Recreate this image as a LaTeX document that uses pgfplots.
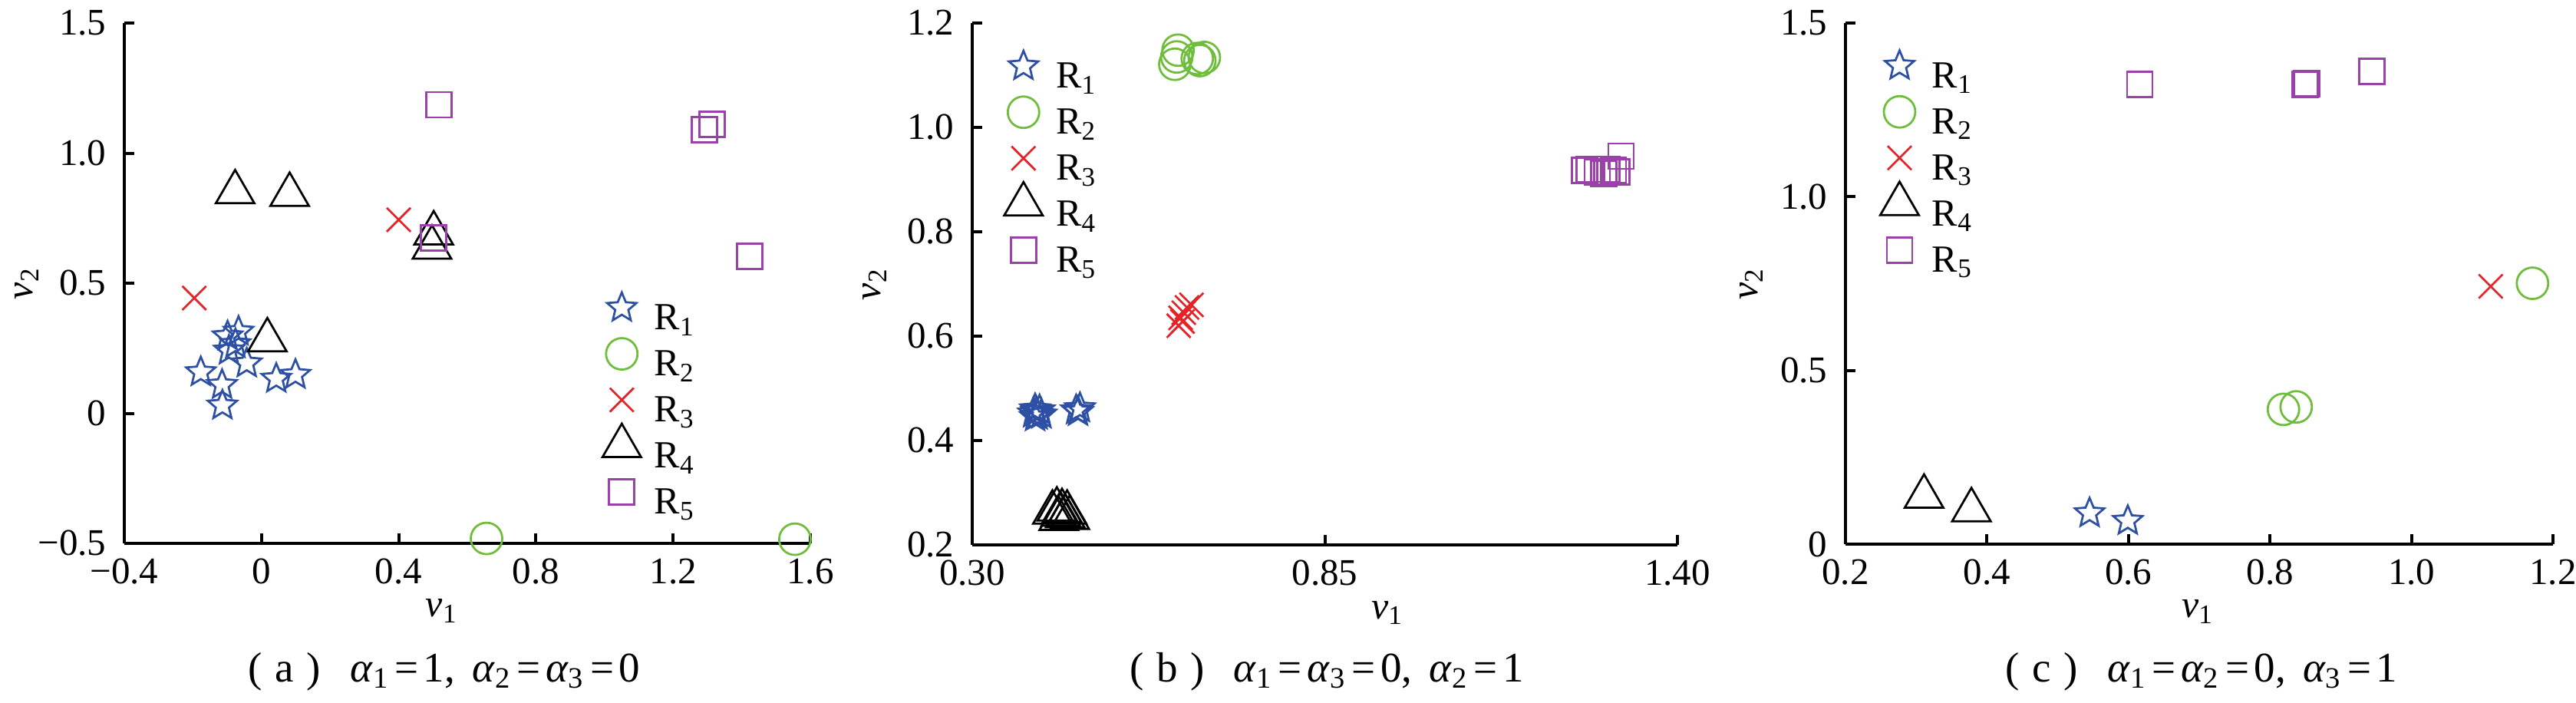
\documentclass[border=0pt]{standalone}
\usepackage{fontspec}
\setmainfont{Liberation Serif}
\usepackage{pgfplots}
\pgfplotsset{compat=1.18}
\definecolor{cR1}{RGB}{45,80,165}
\definecolor{cR2}{RGB}{110,190,60}
\definecolor{cR3}{RGB}{230,35,40}
\definecolor{cR4}{RGB}{0,0,0}
\definecolor{cR5}{RGB}{155,65,170}

% outlined five-pointed star
\pgfdeclareplotmark{ostar}{%
  \pgfpathmoveto{\pgfpointpolar{90}{\pgfplotmarksize}}%
  \pgfpathlineto{\pgfpointpolar{126}{0.45\pgfplotmarksize}}%
  \pgfpathlineto{\pgfpointpolar{162}{\pgfplotmarksize}}%
  \pgfpathlineto{\pgfpointpolar{198}{0.45\pgfplotmarksize}}%
  \pgfpathlineto{\pgfpointpolar{234}{\pgfplotmarksize}}%
  \pgfpathlineto{\pgfpointpolar{270}{0.45\pgfplotmarksize}}%
  \pgfpathlineto{\pgfpointpolar{306}{\pgfplotmarksize}}%
  \pgfpathlineto{\pgfpointpolar{342}{0.45\pgfplotmarksize}}%
  \pgfpathlineto{\pgfpointpolar{18}{\pgfplotmarksize}}%
  \pgfpathlineto{\pgfpointpolar{54}{0.45\pgfplotmarksize}}%
  \pgfpathclose
  \pgfusepathqstroke}

\pgfplotsset{
  panel/.style={
    scale only axis, axis lines=left, axis line style={-, line width=0.8pt},
    tick align=inside, major tick length=2.6pt, tick style={line width=0.8pt, black},
    clip=false, anchor=south west,
    tick label style={font=\fontsize{9.8}{11}\selectfont},
    yticklabel style={xshift=-1.2pt}, xticklabel style={yshift=-0.5pt},
    label style={font=\fontsize{10}{11}\selectfont, inner sep=0pt},
    ylabel style={anchor=center},
    xlabel style={anchor=north},
    legend style={draw=none, fill=none, inner sep=0pt, outer sep=0pt, anchor=north west,
      row sep=0pt, column sep=0pt,
      nodes={inner sep=0pt, text height=7.2pt, text depth=2.4pt},
      font=\fontsize{10}{11}\selectfont},
    legend cell align=left,
  },
  leg/.style={only marks, mark options={line width=0.55pt, solid},
    legend image code/.code={\path[use as bounding box, draw=none, fill=none] (0pt,-2.4pt) rectangle (13pt,7.2pt);
      \draw[##1] plot coordinates {(4.5pt,3.3pt)};}},
  r1/.style={cR1, mark=ostar, mark size=4pt, leg},
  r2/.style={cR2, mark=o, mark size=4.1pt, leg},
  r3/.style={cR3, mark=x, mark size=4.4pt, leg},
  r4/.style={cR4, mark=triangle, mark size=5.8pt, leg},
  r5/.style={cR5, mark=square, mark size=3.3pt, leg},
}
\newcommand{\eq}{\hspace{0.12em}=\hspace{0.12em}}

\begin{document}
\begin{tikzpicture}
\path[use as bounding box] (0,0) rectangle (671.4pt,183pt);

% (a)
\begin{axis}[panel, at={(32.4pt,41.4pt)}, width=178.8pt, height=135.6pt,
  xmin=-0.4, xmax=1.6, ymin=-0.5, ymax=1.5,
  xtick={-0.4,0,0.4,0.8,1.2,1.6}, xticklabels={−0.4,0,0.4,0.8,1.2,1.6},
  ytick={-0.5,0,0.5,1.0,1.5}, yticklabels={−0.5,0,0.5,1.0,1.5},
  xlabel={\textit{v}\textsubscript{1}}, ylabel={\textit{v}\textsubscript{2}},
  xlabel style={at={(axis description cs:0.463,-0.106)}},
  ylabel style={at={(axis description cs:-0.142,0.5)}},
  legend style={at={(axis cs:1.0,0.463)}}]
\addplot[r1] coordinates {(-0.067,0.314) (-0.099,0.296) (-0.095,0.241) (-0.076,0.266) (-0.043,0.192) (-0.177,0.158) (-0.115,0.109) (-0.114,0.030) (0.043,0.133) (0.099,0.148)};
\addlegendentry{R\textsubscript{1}}
\addplot[r2] coordinates {(0.656,-0.481) (1.555,-0.484)};
\addlegendentry{R\textsubscript{2}}
\addplot[r3] coordinates {(-0.196,0.443) (0.40,0.744)};
\addlegendentry{R\textsubscript{3}}
\addplot[r4] coordinates {(-0.077,0.85) (0.082,0.84) (0.017,0.281) (0.502,0.692) (0.497,0.637)};
\addlegendentry{R\textsubscript{4}}
\addplot[r5] coordinates {(0.518,1.186) (1.291,1.091) (1.313,1.110) (1.424,0.603) (0.502,0.675)};
\addlegendentry{R\textsubscript{5}}
\end{axis}

% (b)
\begin{axis}[panel, at={(253.4pt,41pt)}, width=183.8pt, height=136pt,
  xmin=0.30, xmax=1.40, ymin=0.2, ymax=1.2,
  xtick={0.30,0.85,1.40}, xticklabels={0.30,0.85,1.40},
  ytick={0.2,0.4,0.6,0.8,1.0,1.2}, yticklabels={0.2,0.4,0.6,0.8,1.0,1.2},
  xlabel={\textit{v}\textsubscript{1}}, ylabel={\textit{v}\textsubscript{2}},
  xlabel style={at={(axis description cs:0.589,-0.106)}},
  ylabel style={at={(axis description cs:-0.138,0.5)}},
  legend style={at={(axis cs:0.353,1.146)}}]
\addplot[r1] coordinates {(0.395,0.452) (0.398,0.460) (0.402,0.448) (0.405,0.458) (0.400,0.455) (0.408,0.450) (0.398,0.445) (0.462,0.458) (0.468,0.462) (0.465,0.455)};
\addlegendentry{R\textsubscript{1}}
\addplot[r2] coordinates {(0.616,1.121) (0.621,1.148) (0.651,1.132) (0.662,1.134) (0.619,1.135) (0.655,1.128)};
\addlegendentry{R\textsubscript{2}}
\addplot[r3] coordinates {(0.622,0.620) (0.625,0.635) (0.630,0.645) (0.635,0.655) (0.642,0.660) (0.628,0.628)};
\addlegendentry{R\textsubscript{3}}
\addplot[r4] coordinates {(0.425,0.262) (0.432,0.268) (0.438,0.258) (0.445,0.255) (0.440,0.265) (0.452,0.252) (0.435,0.250) (0.448,0.262)};
\addlegendentry{R\textsubscript{4}}
\addplot[r5] coordinates {(1.255,0.918) (1.262,0.920) (1.275,0.915) (1.285,0.912) (1.290,0.920) (1.300,0.918) (1.305,0.915) (1.312,0.945)};
\addlegendentry{R\textsubscript{5}}
\end{axis}

% (c)
\begin{axis}[panel, at={(481pt,41.2pt)}, width=184.4pt, height=135.8pt,
  xmin=0.2, xmax=1.2, ymin=0, ymax=1.5,
  xtick={0.2,0.4,0.6,0.8,1.0,1.2}, xticklabels={0.2,0.4,0.6,0.8,1.0,1.2},
  ytick={0,0.5,1.0,1.5}, yticklabels={0,0.5,1.0,1.5},
  xlabel={\textit{v}\textsubscript{1}}, ylabel={\textit{v}\textsubscript{2}},
  xlabel style={at={(axis description cs:0.498,-0.106)}},
  ylabel style={at={(axis description cs:-0.133,0.5)}},
  legend style={at={(axis cs:0.252,1.420)}}]
\addplot[r1] coordinates {(0.545,0.089) (0.599,0.067)};
\addlegendentry{R\textsubscript{1}}
\addplot[r2] coordinates {(0.819,0.388) (0.837,0.395) (1.171,0.751)};
\addlegendentry{R\textsubscript{2}}
\addplot[r3] coordinates {(1.112,0.742)};
\addlegendentry{R\textsubscript{3}}
\addplot[r4] coordinates {(0.311,0.137) (0.378,0.098)};
\addlegendentry{R\textsubscript{4}}
\addplot[r5] coordinates {(0.616,1.323) (0.850,1.323) (0.852,1.326) (0.944,1.361)};
\addlegendentry{R\textsubscript{5}}
\end{axis}

\begin{scope}[font=\fontsize{11}{13}\selectfont]
\node at (115.8pt,8pt) {(\hspace{0.3em}a\hspace{0.3em})\hspace{0.7em}\textit{α}\textsubscript{1}\eq 1,\hspace{0.4em}\textit{α}\textsubscript{2}\eq\textit{α}\textsubscript{3}\eq 0};
\node at (345.8pt,8pt) {(\hspace{0.3em}b\hspace{0.3em})\hspace{0.7em}\textit{α}\textsubscript{1}\eq\textit{α}\textsubscript{3}\eq 0,\hspace{0.4em}\textit{α}\textsubscript{2}\eq 1};
\node at (573.8pt,8pt) {(\hspace{0.3em}c\hspace{0.3em})\hspace{0.7em}\textit{α}\textsubscript{1}\eq\textit{α}\textsubscript{2}\eq 0,\hspace{0.4em}\textit{α}\textsubscript{3}\eq 1};
\end{scope}
\end{tikzpicture}
\end{document}
